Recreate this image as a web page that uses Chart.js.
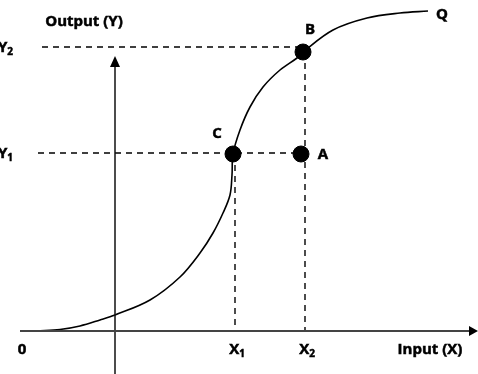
<!DOCTYPE html>
<html><head><meta charset="utf-8">
<script src="https://cdn.jsdelivr.net/npm/chart.js@4"></script>
<style>html,body{margin:0;padding:0;background:#fff;overflow:hidden}#wrap{width:478px;height:374px;position:relative}</style>
</head><body><div id="wrap"><canvas id="c"></canvas></div>
<script>
// Production curve (input X vs output Y), data units with origin at "0"
const curveX = [0, 23, 43, 63, 78, 113, 143, 163, 176, 186, 193, 195, 196, 203, 213, 226, 243, 260, 266, 296, 330, 363, 391];
const curveY = [0, 1.5, 5, 11, 16, 31, 54, 78, 98, 118, 136, 156, 177, 201, 224, 244, 261, 273, 279, 301, 313, 318, 320];
// Marked points
const pointNames = ['C', 'A', 'B'];
const pointX = [196, 264, 266];
const pointY = [177, 177, 279];
// Input levels and output levels
const inputTicks = ['0', 'X1', 'X2'];
const inputValues = [-16, 198, 268];
const outputTicks = ['Y1', 'Y2'];
const outputValues = [178, 284];
const curveName = 'Q';
const xTitle = 'Input (X)';
const yTitle = 'Output (Y)';
// Axis extents
const xAxisRange = [-17, 433];
const yAxisAt = 78;
const yAxisRange = [-43, 265];

const FAM = '"Open Sans", Lato, sans-serif';
const FONT = '700 15px ' + FAM;
const SUBFONT = '700 10px ' + FAM;

const dash = {borderColor: '#000', borderWidth: 1.4, borderDash: [6, 5], pointRadius: 0, showLine: true};
const datasets = [];
// axes
datasets.push({data: [{x: xAxisRange[0], y: 0}, {x: xAxisRange[1], y: 0}], borderColor: '#444', borderWidth: 2, pointRadius: 0, showLine: true});
datasets.push({data: [{x: yAxisAt, y: yAxisRange[0]}, {x: yAxisAt, y: yAxisRange[1]}], borderColor: '#111', borderWidth: 1.5, pointRadius: 0, showLine: true});
// horizontal guides Y1 -> A, Y2 -> B
datasets.push(Object.assign({data: [{x: 1, y: outputValues[0]}, {x: pointX[1], y: outputValues[0]}]}, dash));
datasets.push(Object.assign({data: [{x: 5, y: outputValues[1]}, {x: pointX[2], y: outputValues[1]}]}, dash));
// vertical guides X1, X2
datasets.push(Object.assign({data: [{x: inputValues[1], y: pointY[0]}, {x: inputValues[1], y: 0}]}, dash));
datasets.push(Object.assign({data: [{x: inputValues[2], y: pointY[2]}, {x: inputValues[2], y: 0}]}, dash));
// curve
datasets.push({data: curveX.map((x, i) => ({x, y: curveY[i]})), borderColor: '#000', borderWidth: 1.6, pointRadius: 0, showLine: true, tension: 0.35});
// points
datasets.push({data: pointX.map((x, i) => ({x, y: pointY[i]})), backgroundColor: '#000', borderColor: '#000', pointRadius: 8, showLine: false});

function txt(ctx, s, x, y) {
  ctx.fillText(s, x, y);
  ctx.strokeText(s, x, y);
}

function sub(ctx, main, digit, cx, cy, align) {
  ctx.font = FONT;
  const w1 = ctx.measureText(main).width;
  ctx.font = SUBFONT;
  const w2 = ctx.measureText(digit).width;
  const left = align === 'left' ? cx : cx - (w1 + w2) / 2;
  ctx.textAlign = 'left';
  ctx.textBaseline = 'middle';
  ctx.font = FONT;
  txt(ctx, main, left, cy);
  ctx.font = SUBFONT;
  txt(ctx, digit, left + w1, cy + 4);
}

const overlay = {
  id: 'overlay',
  afterDatasetsDraw(chart) {
    const ctx = chart.ctx, xs = chart.scales.x, ys = chart.scales.y;
    const px = v => xs.getPixelForValue(v), py = v => ys.getPixelForValue(v);
    ctx.save();
    ctx.fillStyle = '#000';
    ctx.strokeStyle = '#000';
    ctx.lineWidth = 0.5;
    // x arrow
    const ax = px(xAxisRange[1]), ay = py(0);
    ctx.beginPath(); ctx.moveTo(ax - 1, ay - 5); ctx.lineTo(ax + 8, ay); ctx.lineTo(ax - 1, ay + 5); ctx.closePath(); ctx.fill();
    // y arrow
    const bx = px(yAxisAt), by = py(yAxisRange[1]);
    ctx.beginPath(); ctx.moveTo(bx - 5, by + 1); ctx.lineTo(bx, by - 10); ctx.lineTo(bx + 5, by + 1); ctx.closePath(); ctx.fill();
    ctx.font = FONT; ctx.textBaseline = 'middle'; ctx.textAlign = 'center';
    // titles
    txt(ctx, yTitle, px(yAxisAt) - 31, 22);
    txt(ctx, xTitle, px(xAxisRange[1]) - 40, py(0) + 19);
    txt(ctx, curveName, px(curveX[curveX.length - 1]) + 14, py(curveY[curveY.length - 1]) + 4);
    // point labels
    txt(ctx, pointNames[0], px(pointX[0]) - 16, py(pointY[0]) - 20);
    txt(ctx, pointNames[1], px(pointX[1]) + 22, py(pointY[1]) + 1);
    txt(ctx, pointNames[2], px(pointX[2]) + 7, py(pointY[2]) - 22);
    // input ticks
    inputTicks.forEach((t, i) => {
      const x = px(inputValues[i]), y = py(0) + 19;
      if (t.length > 1) sub(ctx, t[0], t.slice(1), x + 2, y, 'center');
      else { ctx.font = FONT; ctx.textAlign = 'center'; txt(ctx, t, x + 1, y); }
    });
    outputTicks.forEach((t, i) => {
      sub(ctx, t[0], t.slice(1), -2, py(outputValues[i]) + 1, 'left');
    });
    ctx.restore();
  }
};

new Chart(document.getElementById('c'), {
  type: 'scatter',
  data: {datasets},
  options: {
    responsive: true, maintainAspectRatio: false, animation: false,
    layout: {padding: 0, autoPadding: false},
    plugins: {legend: {display: false}, tooltip: {enabled: false}},
    scales: {
      x: {type: 'linear', min: -37, max: 441, display: false},
      y: {type: 'linear', min: -43, max: 331, display: false}
    }
  },
  plugins: [overlay]
});
</script>
</body></html>
